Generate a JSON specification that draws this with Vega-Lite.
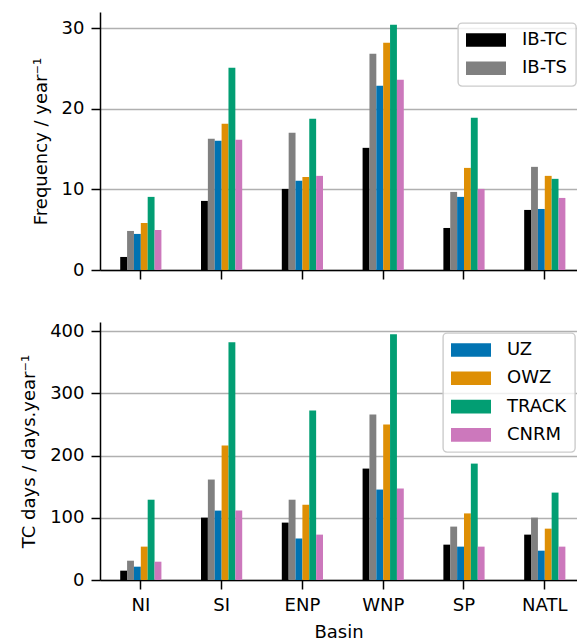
{
  "$schema": "https://vega.github.io/schema/vega-lite/v6.json",
  "background": "white",
  "padding": {"left": 20, "top": 12, "right": 0, "bottom": 0},
  "config": {
    "font": "DejaVu Sans",
    "view": {"stroke": null},
    "axis": {
      "domainColor": "black", "domainWidth": 1.5,
      "tickColor": "black", "tickWidth": 1.5, "tickSize": 9,
      "labelFontSize": 18, "labelColor": "black", "labelPadding": 7,
      "titleFontSize": 18, "titleFontWeight": "normal", "titleColor": "black",
      "gridColor": "#b0b0b0", "gridWidth": 1.4
    },
    "axisX": {"grid": false, "labelAngle": 0, "titlePadding": 9},
    "axisY": {"grid": true, "titlePadding": 11},
    "legend": {
      "labelFontSize": 18, "labelColor": "black", "labelOffset": 16,
      "clipHeight": 18, "rowPadding": 10.3, "padding": 8,
      "fillColor": "rgba(255,255,255,0.8)", "strokeColor": "#cccccc",
      "cornerRadius": 4, "strokeWidth": 1.4
    }
  },
  "data": {"values": [
    {"basin": "NI", "source": "IB-TC", "freq": 1.62, "days": 15},
    {"basin": "NI", "source": "IB-TS", "freq": 4.85, "days": 31},
    {"basin": "NI", "source": "UZ", "freq": 4.48, "days": 21.4},
    {"basin": "NI", "source": "OWZ", "freq": 5.84, "days": 53.6},
    {"basin": "NI", "source": "TRACK", "freq": 9.08, "days": 129},
    {"basin": "NI", "source": "CNRM", "freq": 4.97, "days": 29.4},
    {"basin": "SI", "source": "IB-TC", "freq": 8.58, "days": 100.2},
    {"basin": "SI", "source": "IB-TS", "freq": 16.29, "days": 161.4},
    {"basin": "SI", "source": "UZ", "freq": 16.04, "days": 111.5},
    {"basin": "SI", "source": "OWZ", "freq": 18.15, "days": 216},
    {"basin": "SI", "source": "TRACK", "freq": 25.12, "days": 381.8},
    {"basin": "SI", "source": "CNRM", "freq": 16.16, "days": 111.5},
    {"basin": "ENP", "source": "IB-TC", "freq": 10.07, "days": 92.2},
    {"basin": "ENP", "source": "IB-TS", "freq": 17.03, "days": 129},
    {"basin": "ENP", "source": "UZ", "freq": 11.07, "days": 66.5},
    {"basin": "ENP", "source": "OWZ", "freq": 11.56, "days": 121},
    {"basin": "ENP", "source": "TRACK", "freq": 18.77, "days": 272.4},
    {"basin": "ENP", "source": "CNRM", "freq": 11.69, "days": 72.9},
    {"basin": "WNP", "source": "IB-TC", "freq": 15.17, "days": 179},
    {"basin": "WNP", "source": "IB-TS", "freq": 26.86, "days": 266},
    {"basin": "WNP", "source": "UZ", "freq": 22.88, "days": 145.3},
    {"basin": "WNP", "source": "OWZ", "freq": 28.22, "days": 250},
    {"basin": "WNP", "source": "TRACK", "freq": 30.46, "days": 394.7},
    {"basin": "WNP", "source": "CNRM", "freq": 23.62, "days": 147},
    {"basin": "SP", "source": "IB-TC", "freq": 5.22, "days": 56.8},
    {"basin": "SP", "source": "IB-TS", "freq": 9.7, "days": 85.8},
    {"basin": "SP", "source": "UZ", "freq": 9.08, "days": 53.6},
    {"basin": "SP", "source": "OWZ", "freq": 12.68, "days": 107},
    {"basin": "SP", "source": "TRACK", "freq": 18.9, "days": 187},
    {"basin": "SP", "source": "CNRM", "freq": 10.07, "days": 53.6},
    {"basin": "NATL", "source": "IB-TC", "freq": 7.46, "days": 72.9},
    {"basin": "NATL", "source": "IB-TS", "freq": 12.81, "days": 100.2},
    {"basin": "NATL", "source": "UZ", "freq": 7.58, "days": 47.1},
    {"basin": "NATL", "source": "OWZ", "freq": 11.69, "days": 82.5},
    {"basin": "NATL", "source": "TRACK", "freq": 11.32, "days": 140.4},
    {"basin": "NATL", "source": "CNRM", "freq": 8.95, "days": 53.6}
  ]},
  "spacing": 52,
  "bounds": "flush",
  "resolve": {"scale": {"color": "independent"}, "legend": {"color": "independent"}},
  "vconcat": [
    {
      "width": 477,
      "height": 258,
      "mark": {"type": "bar"},
      "encoding": {
        "x": {
          "field": "basin", "type": "nominal",
          "sort": ["NI", "SI", "ENP", "WNP", "SP", "NATL"],
          "scale": {"paddingInner": 0.49, "paddingOuter": 0.197, "align": 0.635},
          "axis": {"labels": false, "title": null}
        },
        "xOffset": {"field": "source", "type": "nominal", "sort": ["IB-TC", "IB-TS", "UZ", "OWZ", "TRACK", "CNRM"]},
        "y": {
          "field": "freq", "type": "quantitative",
          "scale": {"domain": [0, 32.04], "nice": false},
          "axis": {"values": [0, 10, 20, 30], "title": "Frequency / year⁻¹"}
        },
        "color": {
          "field": "source", "type": "nominal",
          "scale": {
            "domain": ["IB-TC", "IB-TS", "UZ", "OWZ", "TRACK", "CNRM"],
            "range": ["#000000", "#808080", "#0173B2", "#DE8F05", "#029E73", "#CC78BC"]
          },
          "legend": {
            "values": ["IB-TC", "IB-TS"], "title": null,
            "orient": "none", "legendX": 358, "legendY": 11,
            "symbolType": "M-1,-0.34H1V0.34H-1Z", "symbolSize": 1600,
            "symbolStrokeWidth": 0, "symbolOpacity": 1
          }
        }
      }
    },
    {
      "width": 477,
      "height": 258,
      "mark": {"type": "bar"},
      "encoding": {
        "x": {
          "field": "basin", "type": "nominal",
          "sort": ["NI", "SI", "ENP", "WNP", "SP", "NATL"],
          "scale": {"paddingInner": 0.49, "paddingOuter": 0.197, "align": 0.635},
          "axis": {"title": "Basin"}
        },
        "xOffset": {"field": "source", "type": "nominal", "sort": ["IB-TC", "IB-TS", "UZ", "OWZ", "TRACK", "CNRM"]},
        "y": {
          "field": "days", "type": "quantitative",
          "scale": {"domain": [0, 414.5], "nice": false},
          "axis": {"values": [0, 100, 200, 300, 400], "title": "TC days / days.year⁻¹"}
        },
        "color": {
          "field": "source", "type": "nominal",
          "scale": {
            "domain": ["IB-TC", "IB-TS", "UZ", "OWZ", "TRACK", "CNRM"],
            "range": ["#000000", "#808080", "#0173B2", "#DE8F05", "#029E73", "#CC78BC"]
          },
          "legend": {
            "values": ["UZ", "OWZ", "TRACK", "CNRM"], "title": null,
            "orient": "none", "legendX": 343, "legendY": 11,
            "symbolType": "M-1,-0.34H1V0.34H-1Z", "symbolSize": 1600,
            "symbolStrokeWidth": 0, "symbolOpacity": 1
          }
        }
      }
    }
  ]
}
